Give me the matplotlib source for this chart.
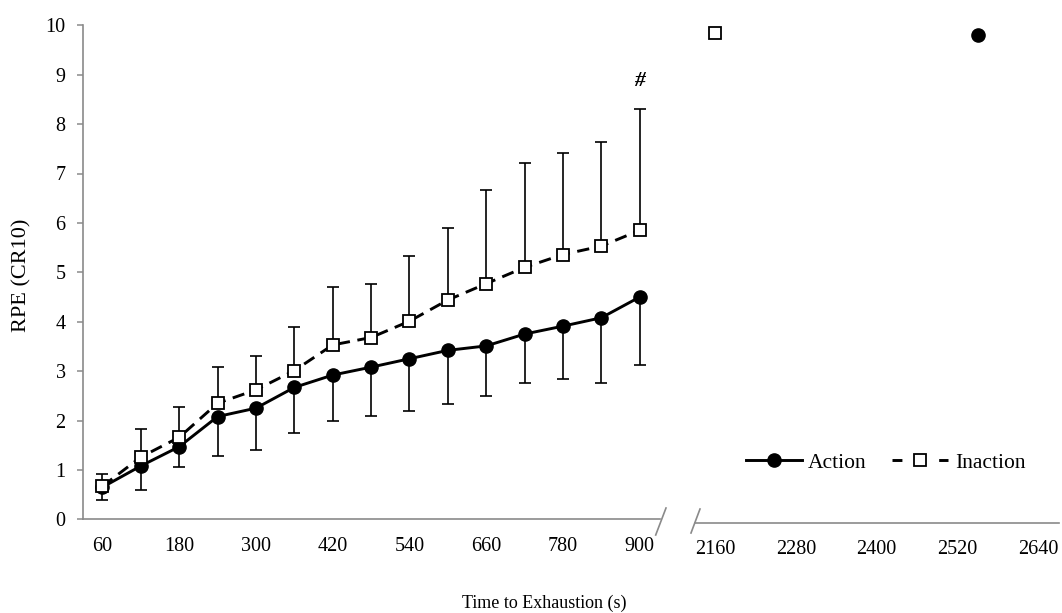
import matplotlib
matplotlib.use("Agg")
import matplotlib.pyplot as plt
from matplotlib.lines import Line2D
import numpy as np

plt.rcParams['font.family'] = ['Liberation Serif', 'DejaVu Serif']

# ---- data ----
times = [60, 120, 180, 240, 300, 360, 420, 480, 540, 600, 660, 720, 780, 840, 900]
action_mean = [0.65, 1.08, 1.47, 2.08, 2.25, 2.67, 2.92, 3.08, 3.25, 3.42, 3.51, 3.75, 3.91, 4.08, 4.50]
action_sd = [0.26, 0.49, 0.42, 0.80, 0.85, 0.93, 0.92, 0.98, 1.05, 1.09, 1.02, 1.00, 1.06, 1.33, 1.38]
inaction_mean = [0.67, 1.26, 1.66, 2.35, 2.62, 3.01, 3.53, 3.68, 4.01, 4.44, 4.77, 5.10, 5.36, 5.53, 5.85]
inaction_sd = [0.25, 0.57, 0.61, 0.73, 0.69, 0.89, 1.17, 1.08, 1.31, 1.46, 1.89, 2.11, 2.05, 2.11, 2.45]

action_end_time = [2550]
action_end_rpe = [9.80]
inaction_end_time = [2160]
inaction_end_rpe = [9.84]

left_xticks = [60, 180, 300, 420, 540, 660, 780, 900]
right_xticks = [2160, 2280, 2400, 2520, 2640]
yticks = list(range(0, 11))

W, H = 1062, 613
fig = plt.figure(figsize=(W / 100, H / 100), dpi=100)

def px_rect(x0, x1, ytop, ybot):
    return [x0 / W, 1 - ybot / H, (x1 - x0) / W, (ybot - ytop) / H]

ax1 = fig.add_axes(px_rect(83.3, 660.2, 25.3, 519.3))
ax2 = fig.add_axes(px_rect(695, 1059, 25.3, 519.3))

spine_col = '#8a8a8a'
tick_fs = 14.5
lw_main = 2.1
main_dash = (4.2, 2.6)

# ---- left panel ----
zeros = np.zeros(len(times))
ax1.errorbar(times, action_mean, yerr=[action_sd, zeros], fmt='none',
             ecolor='black', elinewidth=1.2, capsize=4.3, capthick=1.2, zorder=2)
ax1.errorbar(times, inaction_mean, yerr=[zeros, inaction_sd], fmt='none',
             ecolor='black', elinewidth=1.2, capsize=4.3, capthick=1.2, zorder=2)
ax1.plot(times, action_mean, color='black', lw=lw_main, marker='o', ms=9.5,
         mfc='black', mec='black', zorder=3)
ax1.plot(times, inaction_mean, color='black', lw=lw_main, dashes=main_dash,
         marker='s', ms=9, mfc='white', mec='black', mew=1.3, zorder=4)

ax1.text(900, 8.88, '#', ha='center', va='center', fontsize=15.5,
         style='italic', fontweight='bold')

ax1.set_xlim(30, 932)
ax1.set_ylim(0, 10)
ax1.set_xticks(left_xticks)
ax1.set_yticks(yticks)
for s in ['top', 'right']:
    ax1.spines[s].set_visible(False)
for s in ['left', 'bottom']:
    ax1.spines[s].set_color(spine_col)
    ax1.spines[s].set_linewidth(1.2)
ax1.tick_params(axis='y', direction='out', length=4.3, width=1.1,
                color=spine_col, pad=8.4, labelsize=tick_fs)
ax1.tick_params(axis='x', length=0, pad=12.5, labelsize=tick_fs)

# ---- right panel ----
ax2.plot(inaction_end_time, inaction_end_rpe, linestyle='none', marker='s',
         ms=9, mfc='white', mec='black', mew=1.3)
ax2.plot(action_end_time, action_end_rpe, linestyle='none', marker='o',
         ms=9.5, mfc='black', mec='black')
ax2.set_xlim(2130, 2671)
ax2.set_ylim(0, 10)
ax2.set_xticks(right_xticks)
ax2.set_yticks([])
for s in ['top', 'right', 'left']:
    ax2.spines[s].set_visible(False)
ax2.spines['bottom'].set_color(spine_col)
ax2.spines['bottom'].set_linewidth(1.2)
ax2.spines['bottom'].set_position(('outward', 2.4))
ax2.tick_params(axis='x', length=0, pad=12.5, labelsize=tick_fs)

# ---- axis-break marks ----
for (xa, ya, xb, yb) in [(655.7, 535, 666, 508), (691, 533, 700, 509)]:
    fig.add_artist(Line2D([xa / W, xb / W], [1 - ya / H, 1 - yb / H],
                          transform=fig.transFigure, color=spine_col, lw=1.2))

# ---- labels ----
fig.text(22 / W, 1 - 275 / H, 'RPE (CR10)', rotation=90, ha='center',
         va='center', fontsize=16)
fig.text(544 / W, 1 - 603 / H, 'Time to Exhaustion (s)', ha='center',
         va='center', fontsize=13)

# ---- legend ----
h_action = Line2D([], [], color='black', lw=lw_main, marker='o', ms=9.5)
h_inaction = Line2D([], [], color='black', lw=lw_main, dashes=(3.4, 12.6),
                    marker='s', ms=9, mfc='white', mec='black', mew=1.3)
fig.legend([h_action, h_inaction], ['Action', 'Inaction'], loc='center',
           bbox_to_anchor=(885.5 / W, 1 - 463 / H), ncol=2, frameon=False,
           fontsize=15.5, handlelength=2.6, handletextpad=0.3,
           columnspacing=1.2, borderaxespad=0)

fig.savefig('out.png', dpi=100)
